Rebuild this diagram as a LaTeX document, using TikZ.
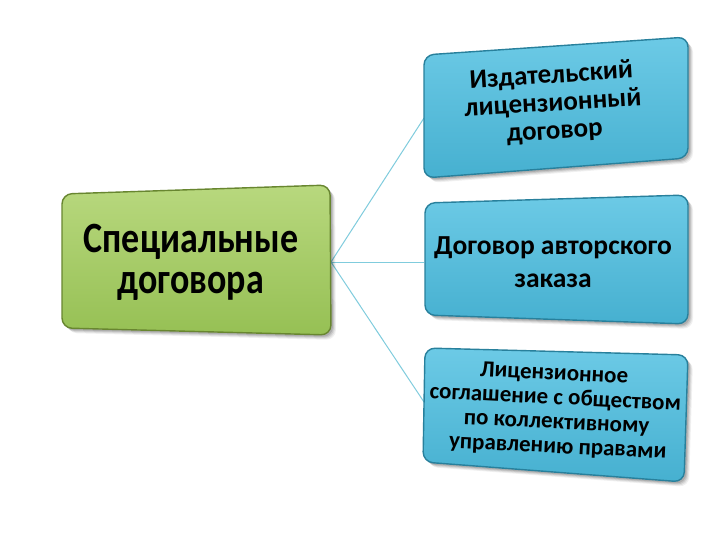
\documentclass[tikz,border=0pt]{standalone}
\usepackage{fontspec}
\setmainfont{Carlito}
\definecolor{glight}{RGB}{184,216,126}
\definecolor{gdark}{RGB}{150,192,84}
\definecolor{gedge}{RGB}{104,134,48}
\definecolor{blight}{RGB}{108,202,230}
\definecolor{bdark}{RGB}{70,176,208}
\definecolor{bedge}{RGB}{40,128,156}
\definecolor{conn}{RGB}{128,204,221}
\newcommand\slabbox[7]{%
  \foreach \s/\o in {5/0.06,4/0.08,3/0.1,2/0.12}{%
    \fill[black,opacity=\o,rounded corners=10pt,shift={(\s,\s)}] #1--#2--#3--#4--cycle;}
  \shade[top color=#5, bottom color=#6, rounded corners=10pt] #1--#2--#3--#4--cycle;
  \draw[#7, line width=1.4pt, rounded corners=10pt] #1--#2--#3--#4--cycle;
}
\tikzset{
  conline/.style={draw=conn, line width=1pt},
  gtext/.style={font=\bfseries\fontsize{36}{34}\selectfont, align=center, text=black, yscale=1.2},
  btext/.style={font=\bfseries\fontsize{27}{28}\selectfont, align=center, text=black},
  mtext/.style={font=\bfseries\fontsize{27.5}{33}\selectfont, align=center, text=black},
  ctext/.style={font=\bfseries\fontsize{23}{24}\selectfont, text=black, inner sep=0pt,
                text height=11pt, text depth=4pt, rotate=-2.8}
}
\begin{document}
\begin{tikzpicture}[x=1pt,y=-1pt]
\useasboundingbox (0,0) rectangle (720,540);
\fill[white] (0,0) rectangle (720,540);
% connectors
\coordinate (src) at (331,262);
\coordinate (d1) at (424,118);
\coordinate (d2) at (424,262);
\coordinate (d3) at (424,402);
\draw[conline] (src) -- (d1);
\draw[conline] (src) -- (d2);
\draw[conline] (src) -- (d3);
% boxes
\slabbox{(62,194)}{(330,185)}{(331,335)}{(62,328)}{glight}{gdark}{gedge}
\slabbox{(424,55)}{(688,37)}{(688,158)}{(424,178)}{blight}{bdark}{bedge}
\slabbox{(425,203)}{(688,195)}{(688,324)}{(425,315)}{blight}{bdark}{bedge}
\slabbox{(425,348)}{(688,355)}{(684,482)}{(423,462)}{blight}{bdark}{bedge}
% texts
\node[gtext] (g) at (191,262) {Специальные\\договора};
\node[btext, rotate=3.5] (t1) at (553,104) {Издательский\\лицензионный\\договор};
\node[mtext] (t2) at (553,262) {Договор авторского\\заказа};
\node[ctext] (t3a) at (554.0,376.3) {Лицензионное};
\node[ctext] (t3b) at (555.2,400.8) {соглашение с обществом};
\node[ctext] (t3c) at (556.4,425.2) {по коллективному};
\node[ctext] (t3d) at (557.6,449.7) {управлению правами};
\end{tikzpicture}
\end{document}
